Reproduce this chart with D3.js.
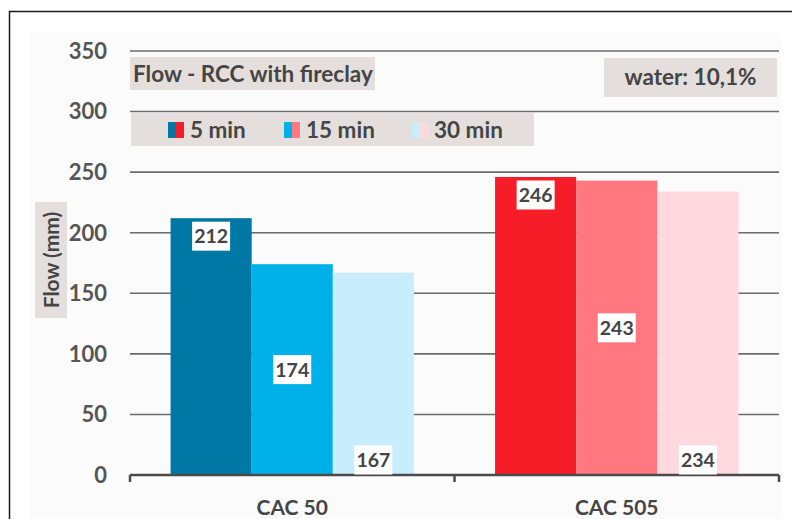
<!DOCTYPE html>
<html>
<head>
<meta charset="utf-8">
<script src="https://cdn.jsdelivr.net/npm/d3@7"></script>
<style>
  html, body { margin: 0; padding: 0; background: #ffffff; }
  svg { display: block; font-family: Lato, "Open Sans", sans-serif; font-weight: bold; }
</style>
</head>
<body>
<svg id="chart" width="792" height="519"></svg>
<script>
// Flow measurements (mm) per cement type at three times after mixing
const categories = ["CAC 50", "CAC 505"];
const series = ["5 min", "15 min", "30 min"];
const flow5 = [212, 246];
const flow15 = [174, 243];
const flow30 = [167, 234];
const yTicks = [0, 50, 100, 150, 200, 250, 300, 350];
const title = "Flow - RCC with fireclay";
const note = "water: 10,1%";
const yTitle = "Flow (mm)";

// Each series has a blue shade (CAC 50) and a red shade (CAC 505)
const blueShades = ["#0078a5", "#00b0e8", "#c8eefd"];
const redShades = ["#f61c28", "#ff7880", "#ffd9de"];
const labelPlacement = ["end", "center", "base"];

const seriesValues = [flow5, flow15, flow30];
const data = [];
categories.forEach((c, ci) => {
  series.forEach((s, si) => {
    data.push({ category: c, ci, series: s, si, value: seriesValues[si][ci] });
  });
});

const svg = d3.select("#chart");
const W = 792, H = 519;
const plot = { left: 130, right: 779, top: 51, bottom: 475 };
const boxFill = "#e4dfdc";
const textColor = "#454545";

// Frame and faint plot-area backdrop
svg.append("rect").attr("x", 30).attr("y", 33).attr("width", 751).attr("height", 486)
  .attr("fill", "#fbfbfb");
svg.append("path").attr("d", `M9.5,${H} V11.5 H${W}`)
  .attr("fill", "none").attr("stroke", "#1a1a1a").attr("stroke-width", 1.5);

const y = d3.scaleLinear().domain([0, 350]).range([plot.bottom, plot.top]);
const x0 = d3.scaleBand().domain(categories).range([plot.left, plot.right])
  .paddingInner(0.25).paddingOuter(0.125);
const x1 = d3.scaleBand().domain(series).range([0, x0.bandwidth()]);

// Horizontal gridlines
svg.append("g").selectAll("line").data(yTicks.filter(d => d > 0)).join("line")
  .attr("x1", plot.left).attr("x2", plot.right)
  .attr("y1", d => y(d)).attr("y2", d => y(d))
  .attr("stroke", "#6b6b6b").attr("stroke-width", 1.6);

// Y tick labels
svg.append("g").selectAll("text").data(yTicks).join("text")
  .attr("x", 107).attr("y", d => y(d)).attr("dy", "0.36em")
  .attr("text-anchor", "end").attr("font-size", 22).attr("fill", "#555555")
  .text(d => d);

// Bars
svg.append("g").selectAll("rect").data(data).join("rect")
  .attr("x", d => x0(d.category) + x1(d.series))
  .attr("y", d => y(d.value))
  .attr("width", x1.bandwidth())
  .attr("height", d => y(0) - y(d.value))
  .attr("fill", d => d.ci === 0 ? blueShades[d.si] : redShades[d.si]);

// X axis with tick marks at band edges
const xAxis = svg.append("g");
xAxis.append("line").attr("x1", plot.left).attr("x2", plot.right)
  .attr("y1", plot.bottom).attr("y2", plot.bottom)
  .attr("stroke", "#4a4a4a").attr("stroke-width", 2.5);
const edges = [plot.left, x0(categories[1]) - x0.step() * x0.paddingInner() / 2, plot.right];
xAxis.selectAll("line.tick").data(edges).join("line").attr("class", "tick")
  .attr("x1", d => d).attr("x2", d => d)
  .attr("y1", plot.bottom).attr("y2", plot.bottom + 7)
  .attr("stroke", "#4a4a4a").attr("stroke-width", 2.5);
xAxis.selectAll("text").data(categories).join("text")
  .attr("x", d => x0(d) + x0.bandwidth() / 2).attr("y", 515)
  .attr("text-anchor", "middle").attr("font-size", 21).attr("fill", textColor)
  .text(d => d);

// Value labels in white boxes
const labelG = svg.append("g");
data.forEach(d => {
  const cx = x0(d.category) + x1(d.series) + x1.bandwidth() / 2;
  const place = labelPlacement[d.si];
  let cy;
  if (place === "end") cy = y(d.value) + 18;
  else if (place === "center") cy = (y(d.value) + y(0)) / 2;
  else cy = y(0) - 15;
  const bw = 38, bh = 29;
  labelG.append("rect").attr("x", cx - bw / 2).attr("y", cy - bh / 2)
    .attr("width", bw).attr("height", bh).attr("fill", "#ffffff");
  labelG.append("text").attr("x", cx).attr("y", cy).attr("dy", "0.36em")
    .attr("text-anchor", "middle").attr("font-size", 19.5).attr("fill", textColor)
    .text(d.value);
});

// Title box
svg.append("rect").attr("x", 130).attr("y", 57).attr("width", 245).attr("height", 33).attr("fill", boxFill);
svg.append("text").attr("x", 133).attr("y", 82).attr("font-size", 22.5).attr("fill", textColor).text(title);

// Water content note
svg.append("rect").attr("x", 604).attr("y", 58).attr("width", 173).attr("height", 39).attr("fill", boxFill);
svg.append("text").attr("x", 690.5).attr("y", 85).attr("text-anchor", "middle")
  .attr("font-size", 22.5).attr("fill", textColor).text(note);

// Legend: each swatch shows the blue and red shade of a series
const legend = svg.append("g");
legend.append("rect").attr("x", 131).attr("y", 113).attr("width", 403).attr("height", 33).attr("fill", boxFill);
const legendX = [168, 284, 412];
series.forEach((s, i) => {
  const lx = legendX[i];
  legend.append("rect").attr("x", lx).attr("y", 122).attr("width", 8).attr("height", 16).attr("fill", blueShades[i]);
  legend.append("rect").attr("x", lx + 8).attr("y", 122).attr("width", 8).attr("height", 16).attr("fill", redShades[i]);
  legend.append("text").attr("x", lx + 22).attr("y", 138).attr("font-size", 22.5).attr("fill", textColor).text(s);
});

// Y axis title
svg.append("rect").attr("x", 35).attr("y", 202).attr("width", 32).attr("height", 116).attr("fill", boxFill);
svg.append("text").attr("transform", "translate(58.5,260) rotate(-90)")
  .attr("text-anchor", "middle").attr("font-size", 21).attr("fill", textColor).text(yTitle);
</script>
</body>
</html>
